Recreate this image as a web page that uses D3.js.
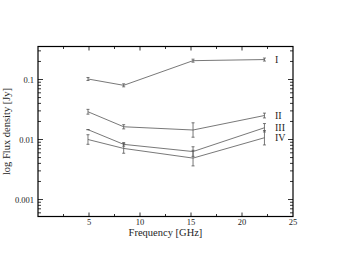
<!DOCTYPE html>
<html>
<head>
<meta charset="utf-8">
<script src="https://cdn.jsdelivr.net/npm/d3@7"></script>
<style>
body { margin: 0; background: #fff; }
svg text { font-family: "Liberation Serif", "DejaVu Serif", serif; }
</style>
</head>
<body>
<script>
var w = 339;
var h = 262;

// frequencies in GHz
var freq = [4.9, 8.4, 15.2, 22.2];

// flux densities (Jy) per component, and errors in dex
var fluxI = [0.102, 0.080, 0.206, 0.215];
var fluxII = [0.029, 0.0163, 0.0144, 0.0251];
var fluxIII = [0.0146, 0.0083, 0.0063, 0.0157];
var fluxIV = [0.0100, 0.0071, 0.0049, 0.0107];
var errI = [0.025, 0.025, 0.025, 0.025];
var errII = [0.04, 0.035, 0.12, 0.04];
var errIII = [0.0, 0.03, 0.08, 0.07];
var errIV = [0.08, 0.08, 0.13, 0.12];

var xTicks = [5, 10, 15, 20, 25];
var yTicks = [0.001, 0.01, 0.1];

var series = [
    {name: 'I', flux: fluxI, err: errI},
    {name: 'II', flux: fluxII, err: errII},
    {name: 'III', flux: fluxIII, err: errIII},
    {name: 'IV', flux: fluxIV, err: errIV}
];

var pL = 38, pR = 293, pT = 46.5, pB = 216.5;

var x = d3.scaleLinear().domain([0, 25]).range([pL, pR]);
var y = d3.scaleLog().domain([Math.pow(10, -3.283), Math.pow(10, -0.45)]).range([pB, pT]);

var svg = d3.select('body').append('svg').attr('width', w).attr('height', h);

// minor ticks
var xMinor = d3.range(2.5, 25, 2.5);
var yMinor = [];
[0.0001, 0.001, 0.01, 0.1].forEach(function(dec) {
    for (var k = 2; k <= 9; k++) {
        var v = dec * k;
        if (v > y.domain()[0] && v < y.domain()[1]) yMinor.push(v);
    }
});

var tickG = svg.append('g').attr('stroke', '#000').attr('stroke-width', 0.8);

// bottom and top ticks (inward)
xMinor.forEach(function(v) {
    var major = (v % 5 === 0);
    var len = major ? 4 : 2.5;
    tickG.append('line').attr('x1', x(v)).attr('x2', x(v)).attr('y1', pB).attr('y2', pB - len);
    tickG.append('line').attr('x1', x(v)).attr('x2', x(v)).attr('y1', pT).attr('y2', pT + len);
});

// left and right ticks
yTicks.concat(yMinor).forEach(function(v) {
    var major = yTicks.indexOf(v) >= 0;
    var len = major ? 5 : 3;
    tickG.append('line').attr('x1', pL).attr('x2', pL + len).attr('y1', y(v)).attr('y2', y(v));
    tickG.append('line').attr('x1', pR).attr('x2', pR - len).attr('y1', y(v)).attr('y2', y(v));
});

// frame
svg.append('rect')
    .attr('x', pL).attr('y', pT)
    .attr('width', pR - pL).attr('height', pB - pT)
    .attr('fill', 'none').attr('stroke', '#000').attr('stroke-width', 1.2);

// texts go in a group with slight opacity (grayscale antialiasing)
var txt = svg.append('g').attr('opacity', 0.99).attr('fill', '#222');

// tick labels
txt.selectAll('.xlab').data(xTicks).enter().append('text')
    .attr('x', function(d) { return x(d); })
    .attr('y', pB + 8)
    .attr('text-anchor', 'middle')
    .attr('font-size', '8.5px')
    .text(function(d) { return d; });

txt.selectAll('.ylab').data(yTicks).enter().append('text')
    .attr('x', pL - 4)
    .attr('y', function(d) { return y(d) + 3; })
    .attr('text-anchor', 'end')
    .attr('font-size', '8.5px')
    .text(function(d) { return d; });

// axis titles
txt.append('text')
    .attr('x', (pL + pR) / 2)
    .attr('y', pB + 19.5)
    .attr('text-anchor', 'middle')
    .attr('font-size', '10.5px')
    .text('Frequency [GHz]');

txt.append('text')
    .attr('transform', 'translate(10,' + (pT + pB) / 2 + ') rotate(-90)')
    .attr('text-anchor', 'middle')
    .attr('font-size', '10.5px')
    .text('log Flux density [Jy]');

// lines and error bars
var line = d3.line()
    .x(function(d) { return x(d.f); })
    .y(function(d) { return y(d.v); });

series.forEach(function(s) {
    var pts = freq.map(function(f, i) { return {f: f, v: s.flux[i], e: s.err[i]}; });
    var g = svg.append('g').attr('stroke', '#555').attr('stroke-width', 0.8).attr('fill', 'none');
    g.append('path').attr('d', line(pts));
    pts.forEach(function(p) {
        var px = x(p.f);
        var y0 = y(p.v * Math.pow(10, p.e));
        var y1 = y(p.v / Math.pow(10, p.e));
        g.append('line').attr('x1', px).attr('x2', px).attr('y1', y0).attr('y2', y1);
        g.append('line').attr('x1', px - 1.5).attr('x2', px + 1.5).attr('y1', y0).attr('y2', y0);
        g.append('line').attr('x1', px - 1.5).attr('x2', px + 1.5).attr('y1', y1).attr('y2', y1);
    });
    txt.append('text')
        .attr('x', 275)
        .attr('y', y(s.flux[3]) + 3.5)
        .attr('font-size', '10px')
        .text(s.name);
});
</script>
</body>
</html>
